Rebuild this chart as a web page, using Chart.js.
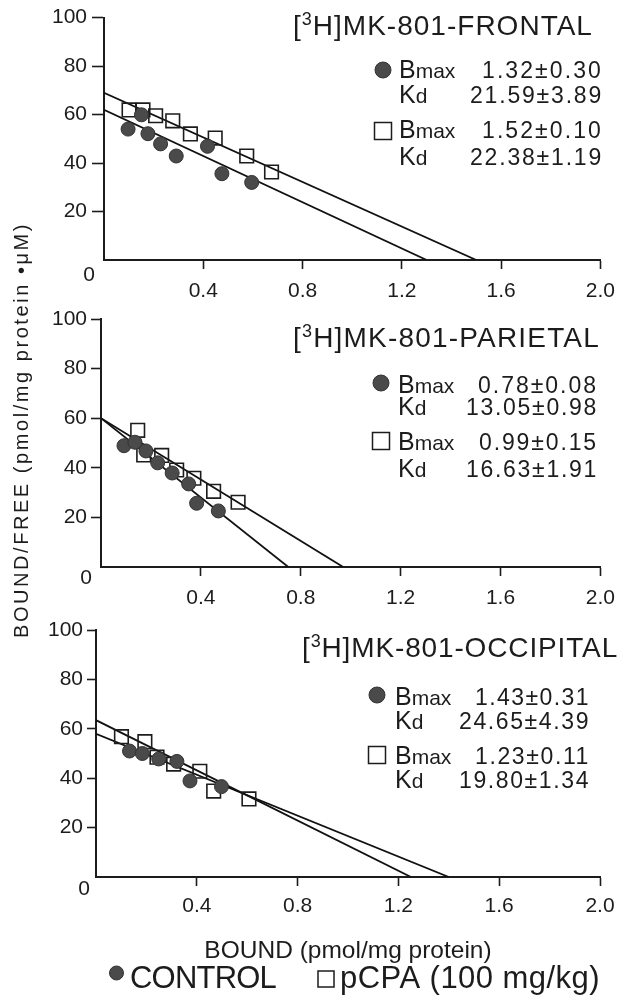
<!DOCTYPE html>
<html><head><meta charset="utf-8">
<script src="https://cdn.jsdelivr.net/npm/chart.js@4.4.1/dist/chart.umd.min.js"></script>
<style>
html,body{margin:0;padding:0;background:#fff;}
#wrap{position:relative;width:625px;height:1004px;overflow:hidden;background:#fff;}
canvas{position:absolute;left:0;top:0;}
</style></head><body>
<div id="wrap">
<canvas id="c0" width="625" height="1004"></canvas>
<canvas id="c1" width="625" height="1004"></canvas>
<canvas id="c2" width="625" height="1004"></canvas>
</div>
<script>
// ---------- DATA ----------
const panelNames = ['FRONTAL', 'PARIETAL', 'OCCIPITAL'];
const xTickValues = [0, 0.4, 0.8, 1.2, 1.6, 2.0];
const xTickLabels = ['', '0.4', '0.8', '1.2', '1.6', '2.0'];
const yTickValues = [0, 20, 40, 60, 80, 100];
const yTickLabels = ['', '20', '40', '60', '80', '100'];

// FRONTAL
const frontalControlX = [0.097, 0.151, 0.177, 0.228, 0.291, 0.417, 0.475, 0.595];
const frontalControlY = [54.0, 59.9, 52.1, 47.9, 42.9, 46.9, 35.6, 32.0];
const frontalPcpaX = [0.101, 0.157, 0.208, 0.277, 0.348, 0.448, 0.575, 0.675];
const frontalPcpaY = [61.9, 61.9, 59.5, 57.4, 52.0, 50.3, 42.9, 36.3];
const frontalControlLineX = [0, 1.30];
const frontalControlLineY = [62, 0];
const frontalPcpaLineX = [0, 1.50];
const frontalPcpaLineY = [69, 0];

// PARIETAL
const parietalControlX = [0.092, 0.136, 0.180, 0.227, 0.285, 0.351, 0.383, 0.470];
const parietalControlY = [48.9, 50.3, 46.8, 42.0, 37.9, 33.5, 25.7, 22.6];
const parietalPcpaX = [0.147, 0.171, 0.243, 0.303, 0.372, 0.451, 0.549];
const parietalPcpaY = [55.1, 45.2, 45.0, 39.1, 35.8, 30.5, 26.1];
const parietalControlLineX = [0, 0.75];
const parietalControlLineY = [60, 0];
const parietalPcpaLineX = [0, 0.97];
const parietalPcpaLineY = [60, 0];

// OCCIPITAL
const occipitalControlX = [0.133, 0.184, 0.249, 0.321, 0.373, 0.498];
const occipitalControlY = [51.0, 50.0, 47.8, 46.8, 38.9, 36.6];
const occipitalPcpaX = [0.101, 0.194, 0.242, 0.308, 0.412, 0.467, 0.607];
const occipitalPcpaY = [56.8, 54.8, 48.5, 45.7, 42.8, 34.8, 31.6];
const occipitalControlLineX = [0, 1.40];
const occipitalControlLineY = [58, 0];
const occipitalPcpaLineX = [0, 1.25];
const occipitalPcpaLineY = [63.5, 0];

// Binding constants shown in each panel
const bmaxControl = ['1.32\u00b10.30', '0.78\u00b10.08', '1.43\u00b10.31'];
const kdControl = ['21.59\u00b13.89', '13.05\u00b10.98', '24.65\u00b14.39'];
const bmaxPcpa = ['1.52\u00b10.10', '0.99\u00b10.15', '1.23\u00b10.11'];
const kdPcpa = ['22.38\u00b11.19', '16.63\u00b11.91', '19.80\u00b11.34'];

const seriesLabels = ['CONTROL', 'pCPA (100 mg/kg)'];
const xAxisTitle = 'BOUND (pmol/mg protein)';
const yAxisTitle = 'BOUND/FREE (pmol/mg protein \u2022\u03bcM)';

// ---------- BUILD ----------
const pts = (xs, ys) => xs.map((x, i) => ({x: x, y: ys[i]}));
const controlPts = [pts(frontalControlX, frontalControlY), pts(parietalControlX, parietalControlY), pts(occipitalControlX, occipitalControlY)];
const pcpaPts = [pts(frontalPcpaX, frontalPcpaY), pts(parietalPcpaX, parietalPcpaY), pts(occipitalPcpaX, occipitalPcpaY)];
const controlLines = [pts(frontalControlLineX, frontalControlLineY), pts(parietalControlLineX, parietalControlLineY), pts(occipitalControlLineX, occipitalControlLineY)];
const pcpaLines = [pts(frontalPcpaLineX, frontalPcpaLineY), pts(parietalPcpaLineX, parietalPcpaLineY), pts(occipitalPcpaLineX, occipitalPcpaLineY)];

const INK = '#1c1c1c';
const DOT = '#4a4a4a';
const FONT = '"Liberation Sans", Arial, Helvetica, sans-serif';
const W = 625, H = 1004;

const frames = [
  {left: 104, top: 15, right: 604, bottom: 260, ytl: 12, ypad: 5, xtl: 9, xpad: 10, xh: 40},
  {left: 101, top: 319, right: 601, bottom: 567, ytl: 10, ypad: 4, xtl: 9, xpad: 10, xh: 40},
  {left: 96, top: 630, right: 600, bottom: 877, ytl: 9, ypad: 4, xtl: 9, xpad: 8, xh: 89}
];

const textPos = [
  {tx: 293, tw: 300, ty: 35, mx: 383, cy: 70, sy: 131, lx: 399, rows: [78, 103, 138, 165], vl: [482, 470, 482, 470], vr: 603, zx: 89, zy: 275},
  {tx: 293, tw: 307, ty: 347, mx: 381, cy: 383, sy: 441, lx: 398, rows: [393, 415, 450, 477], vl: [478, 466, 479, 466], vr: 598, zx: 86, zy: 578},
  {tx: 302, tw: 316, ty: 657, mx: 377, cy: 695, sy: 755, lx: 395, rows: [705, 729, 764, 788], vl: [475, 459, 475, 459], vr: 590, zx: 84, zy: 889}
];

function setFont(ctx, size) { ctx.font = size + 'px ' + FONT; }

function drawRuns(ctx, runs, x, y, targetW) {
  ctx.letterSpacing = '0px';
  let nat = 0, n = 0;
  runs.forEach(r => { setFont(ctx, r.f); nat += ctx.measureText(r.t).width; n += r.t.length; });
  let ls = 0;
  if (targetW) ls = (targetW - nat) / Math.max(1, n);
  ctx.letterSpacing = ls.toFixed(2) + 'px';
  let cx = x;
  runs.forEach(r => {
    setFont(ctx, r.f);
    ctx.fillText(r.t, cx, y + (r.dy || 0));
    cx += ctx.measureText(r.t).width;
  });
  ctx.letterSpacing = '0px';
}

function dotMarker(ctx, x, y, r) {
  ctx.beginPath(); ctx.arc(x, y, r, 0, Math.PI * 2);
  ctx.fillStyle = DOT; ctx.fill();
  ctx.lineWidth = 1; ctx.strokeStyle = '#333'; ctx.stroke();
  ctx.fillStyle = INK;
}
function squareMarker(ctx, x, y, s) {
  ctx.lineWidth = 1.5; ctx.strokeStyle = INK;
  ctx.strokeRect(x - s / 2, y - s / 2, s, s);
}

const annot = {
  id: 'annot',
  afterDraw(chart, args, o) {
    const ctx = chart.ctx; const i = o.panel; const P = textPos[i];
    ctx.save();
    ctx.fillStyle = INK; ctx.textAlign = 'left'; ctx.textBaseline = 'alphabetic';
    // panel title
    drawRuns(ctx, [{t: '[', f: 28}, {t: '3', f: 18, dy: -10}, {t: 'H]MK-801-' + panelNames[i], f: 28}], P.tx, P.ty, P.tw);
    // stats block
    dotMarker(ctx, P.mx, P.cy, 8);
    squareMarker(ctx, P.mx, P.sy, 17);
    const labels = [[{t: 'B', f: 25}, {t: 'max', f: 21}], [{t: 'K', f: 25}, {t: 'd', f: 21}], [{t: 'B', f: 25}, {t: 'max', f: 21}], [{t: 'K', f: 25}, {t: 'd', f: 21}]];
    const vals = [bmaxControl[i], kdControl[i], bmaxPcpa[i], kdPcpa[i]];
    for (let r = 0; r < 4; r++) {
      drawRuns(ctx, labels[r], P.lx, P.rows[r], 0);
      drawRuns(ctx, [{t: vals[r], f: 23}], P.vl[r], P.rows[r], P.vr - P.vl[r]);
    }
    // origin zero
    setFont(ctx, 21); ctx.textAlign = 'center'; ctx.textBaseline = 'middle';
    ctx.fillText('0', P.zx, P.zy);
    ctx.textAlign = 'left'; ctx.textBaseline = 'alphabetic';
    if (i === 2) {
      // shared y title
      ctx.save();
      ctx.translate(28, 638); ctx.rotate(-Math.PI / 2);
      drawRuns(ctx, [{t: yAxisTitle, f: 20}], 0, 0, 416);
      ctx.restore();
      // legend
      dotMarker(ctx, 116.5, 973, 7);
      drawRuns(ctx, [{t: seriesLabels[0], f: 31}], 130, 988, 146);
      squareMarker(ctx, 326, 979, 16);
      drawRuns(ctx, [{t: seriesLabels[1], f: 31}], 340, 988, 260);
    }
    ctx.restore();
  }
};

function makeChart(i) {
  const F = frames[i];
  const tickCol = c => (c.tick && c.tick.value === 0) ? 'rgba(0,0,0,0)' : INK;
  const xScale = {
    type: 'linear', min: 0, max: 2.0,
    afterFit: s => { s.height = F.xh; },
    afterBuildTicks: s => { s.ticks = xTickValues.map(v => ({value: v})); },
    ticks: {color: INK, font: {family: FONT, size: 21}, padding: F.xpad, maxRotation: 0, autoSkip: false,
      callback: (v, idx) => xTickLabels[idx]},
    grid: {drawOnChartArea: false, drawTicks: true, tickLength: F.xtl, tickWidth: 1.6, tickColor: tickCol},
    border: {display: true, color: INK, width: 2}
  };
  if (i === 2) {
    xScale.title = {display: true, text: xAxisTitle, color: INK, font: {family: FONT, size: 24.5}, padding: {top: 0, bottom: 0}};
  }
  return new Chart(document.getElementById('c' + i), {
    type: 'scatter',
    data: {
      datasets: [
        {label: seriesLabels[0], data: controlPts[i], pointStyle: 'circle', pointRadius: 7, pointHoverRadius: 7,
          backgroundColor: DOT, borderColor: '#333', borderWidth: 1, order: 1},
        {label: seriesLabels[1], data: pcpaPts[i], pointStyle: 'rect', pointRadius: 9.6, pointHoverRadius: 9.6,
          backgroundColor: 'rgba(0,0,0,0)', borderColor: INK, borderWidth: 1.6, order: 2},
        {type: 'line', label: 'control fit', data: controlLines[i], borderColor: '#111', borderWidth: 1.8,
          pointRadius: 0, fill: false, tension: 0, order: 3},
        {type: 'line', label: 'pCPA fit', data: pcpaLines[i], borderColor: '#111', borderWidth: 1.8,
          pointRadius: 0, fill: false, tension: 0, order: 3}
      ]
    },
    options: {
      responsive: false, animation: false, devicePixelRatio: 1,
      layout: {padding: {top: F.top, left: 0, right: W - F.right, bottom: H - F.bottom - F.xh}},
      plugins: {legend: {display: false}, tooltip: {enabled: false}, annot: {panel: i}},
      scales: {
        x: xScale,
        y: {
          type: 'linear', min: 0, max: 100,
          afterFit: s => { s.width = F.left; },
          afterBuildTicks: s => { s.ticks = yTickValues.map(v => ({value: v})); },
          ticks: {color: INK, font: {family: FONT, size: 21}, padding: F.ypad, autoSkip: false,
            callback: (v, idx) => yTickLabels[idx]},
          grid: {drawOnChartArea: false, drawTicks: true, tickLength: F.ytl, tickWidth: 1.6, tickColor: tickCol},
          border: {display: true, color: INK, width: 2}
        }
      }
    },
    plugins: [annot]
  });
}
[0, 1, 2].forEach(makeChart);
</script>
</body></html>
